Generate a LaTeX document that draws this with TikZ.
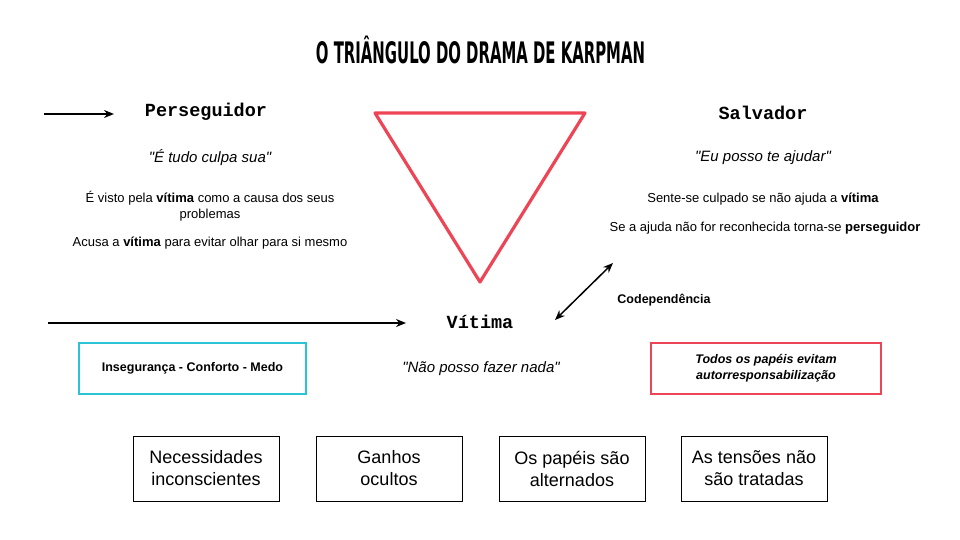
\documentclass[tikz,border=0pt]{standalone}
\usepackage{fontspec}
\setmainfont{Liberation Sans}[Ligatures=TeXOff]
\newfontfamily\monob{Liberation Mono}
\newfontfamily\titlefont{DejaVu Sans}
\usetikzlibrary{arrows.meta}
\definecolor{tri}{HTML}{EE4556}
\definecolor{cyanb}{HTML}{2BC3D8}
\newcommand{\dq}{\char34\relax}
\tikzset{
  body/.style={font=\fontsize{13}{15.5}\selectfont, align=center, inner sep=0pt},
  quote/.style={font=\fontsize{15}{18}\selectfont\itshape, align=center, inner sep=0pt},
  role/.style={font=\fontsize{18.5}{22}\selectfont\monob\bfseries, inner sep=0pt},
  bottombox/.style={draw=black, line width=0.8pt, minimum width=146pt, minimum height=65pt, align=center, font=\fontsize{18}{22}\selectfont, inner sep=0pt},
  arr/.style={line width=1.5pt, -{Stealth[length=10pt,width=8pt]}},
  darr/.style={line width=1.5pt, {Stealth[length=10pt,width=8pt]}-{Stealth[length=10pt,width=8pt]}},
}
\begin{document}
\begin{tikzpicture}[x=1pt,y=-1pt]
\useasboundingbox (0,0) rectangle (960,540);
% title
\node[inner sep=0pt] (title) at (480.5,53) {\resizebox{329pt}{22pt}{\titlefont\bfseries\smash{O TRIÂNGULO DO DRAMA DE KARPMAN}\vphantom{O}}};
% triangle
\coordinate (tA) at (375,113);
\coordinate (tB) at (585,113);
\coordinate (tC) at (480,282);
\draw[tri, line width=3.2pt, line join=round] (tA) -- (tB) -- (tC) -- cycle;
% Perseguidor
\coordinate (a1s) at (44,114);
\coordinate (a1e) at (114,114);
\draw[arr] (a1s) -- (a1e);
\node[role] (pers) at (206,112) {Perseguidor};
\node[quote] (pq) at (210,158) {\dq É tudo culpa sua\dq};
\node[body] (p1) at (210,206) {É visto pela \textbf{vítima} como a causa dos seus\\problemas};
\node[body] (p2) at (210,243) {Acusa a \textbf{vítima} para evitar olhar para si mesmo};
% Salvador
\node[role] (salv) at (763,113) {Salvador};
\node[quote] (sq) at (763,158) {\dq Eu posso te ajudar\dq};
\node[body] (s1) at (763,199) {Sente-se culpado se não ajuda a \textbf{vítima}};
\node[body] (s2) at (765,228) {Se a ajuda não for reconhecida torna-se \textbf{perseguidor}};
% codependencia
\coordinate (d1) at (555,320);
\coordinate (d2) at (613,263);
\draw[darr] (d1) -- (d2);
\node[body, font=\fontsize{12.5}{15}\selectfont\bfseries] (cod) at (664,300) {Codependência};
% Vitima
\coordinate (a2s) at (48,323);
\coordinate (a2e) at (406,323);
\draw[arr] (a2s) -- (a2e);
\node[role] (vit) at (480,322) {Vítima};
\node[quote] (vq) at (481,369) {\dq Não posso fazer nada\dq};
% side boxes
\node[draw=cyanb, line width=1.4pt, minimum width=227pt, minimum height=51pt, inner sep=0pt, font=\fontsize{12.5}{15}\selectfont\bfseries] (ins) at (192.5,368.5) {Insegurança - Conforto - Medo};
\node[draw=tri, line width=1.4pt, minimum width=230pt, minimum height=51pt, inner sep=0pt, align=center, font=\fontsize{12.5}{16}\selectfont\bfseries\itshape] (todos) at (766,368.5) {Todos os papéis evitam\\autorresponsabilização};
% bottom boxes
\node[bottombox] (b1) at (206,468.5) {Necessidades\\inconscientes};
\node[bottombox] (b2) at (389,468.5) {Ganhos\\ocultos};
\node[bottombox] (b3) at (572,468.5) {Os papéis são\\alternados};
\node[bottombox] (b4) at (754,468.5) {As tensões não\\são tratadas};
\end{tikzpicture}
\end{document}
